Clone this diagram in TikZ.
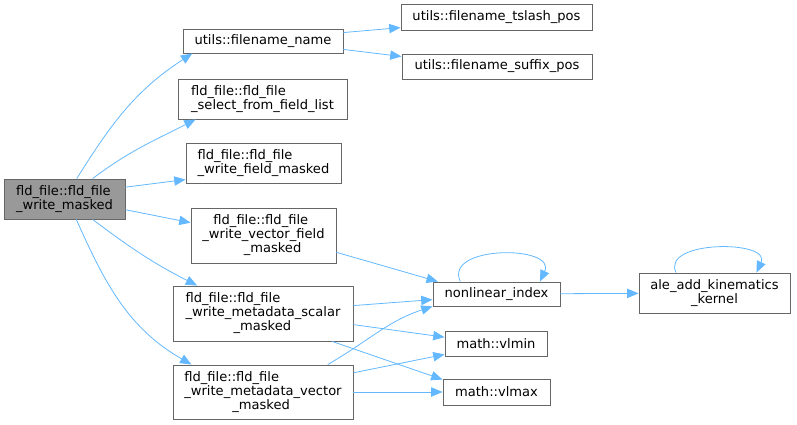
\documentclass[tikz,border=0pt]{standalone}
\usepackage{fontspec}
\setmainfont{DejaVu Sans}
\usepackage{tikz}
\usetikzlibrary{arrows.meta}
\definecolor{edgeblue}{HTML}{63B8FF}
\definecolor{boxgray}{HTML}{666666}
\definecolor{rootgray}{HTML}{999999}
\tikzstyle{func} = [rectangle, draw=boxgray, line width=0.7pt, fill=white, inner sep=0pt, align=left, font=\fontsize{9.8}{10.5}\selectfont]
\tikzstyle{root} = [func, fill=rootgray]
\tikzstyle{arrow} = [draw=edgeblue, line width=0.6pt, -{Triangle[length=8.5pt,width=7pt]}]

\begin{document}
\begin{tikzpicture}[x=0.75pt, y=-0.75pt]
\useasboundingbox (0,0) rectangle (797,425);
\node (f0) [root, minimum width=90.75pt, minimum height=30pt] at (64.5,199) {fld\_file::fld\_file\\\_write\_masked};
\node (u1) [func, minimum width=120pt, minimum height=18pt] at (263,41) {utils::filename\_name};
\node (u2) [func, minimum width=143.25pt, minimum height=19.5pt] at (496.5,17.5) {utils::filename\_tslash\_pos};
\node (u3) [func, minimum width=142.5pt, minimum height=18.75pt] at (497,66.5) {utils::filename\_suffix\_pos};
\node (f1) [func, minimum width=126.75pt, minimum height=30pt] at (262.5,99) {fld\_file::fld\_file\\\_select\_from\_field\_list};
\node (f2) [func, minimum width=116.25pt, minimum height=30pt] at (263.5,163) {fld\_file::fld\_file\\\_write\_field\_masked};
\node (f3) [func, minimum width=108.75pt, minimum height=41.25pt] at (263.5,235.5) {\hspace*{8.25pt}fld\_file::fld\_file\\\_write\_vector\_field\\\hspace*{31pt}\_masked};
\node (f4) [func, minimum width=135pt, minimum height=41.25pt] at (263,313.5) {fld\_file::fld\_file\\\_write\_metadata\_scalar\\\hspace*{36pt}\_masked};
\node (f5) [func, minimum width=135pt, minimum height=40.5pt] at (263,392) {fld\_file::fld\_file\\\_write\_metadata\_vector\\\hspace*{36pt}\_masked};
\node (n1) [func, minimum width=95.25pt, minimum height=18pt] at (496.5,294) {nonlinear\_index};
\node (m1) [func, minimum width=76.5pt, minimum height=18.75pt] at (496,343.5) {math::vlmin};
\node (m2) [func, minimum width=80.25pt, minimum height=19.5pt] at (496.5,392) {math::vlmax};
\node (a1) [func, align=center, minimum width=113.25pt, minimum height=30pt] at (714.5,293) {ale\_add\_kinematics\\\_kernel};
% calls of the root
\draw [arrow] (f0.59) to[out=58, in=213] (u1.190);
\draw [arrow] (f0.36) to[out=37, in=207] (f1.197);
\draw [arrow] (f0.11) -- (f2.192);
\draw [arrow] (f0.-10) -- (f3.170);
\draw [arrow] (f0.-36) to[out=-37, in=153] (f4.157);
\draw [arrow] (f0.-60) to[out=-66, in=150] (f5.159);
% second level
\draw [arrow] (u1.6) -- (u2.186);
\draw [arrow] (u1.-6) -- (u3.174);
\draw [arrow] (f3.-13) -- (n1.168);
\draw [arrow] (f4.5) -- (n1.185);
\draw [arrow] (f4.-7) -- (m1.173);
\draw [arrow] (f4.-22) -- (m2.167);
\draw [arrow] (f5.23) to[out=30, in=198] (n1.191);
\draw [arrow] (f5.12) -- (m1.192);
\draw [arrow] (f5) -- (m2);
\draw [arrow] (n1) -- (a1);
% recursion
\draw [arrow] (n1.161) to[out=115, in=65, looseness=1.3] (n1.16);
\draw [arrow] (a1.152) to[out=115, in=65, looseness=1.15] (a1.26);
\end{tikzpicture}
\end{document}
